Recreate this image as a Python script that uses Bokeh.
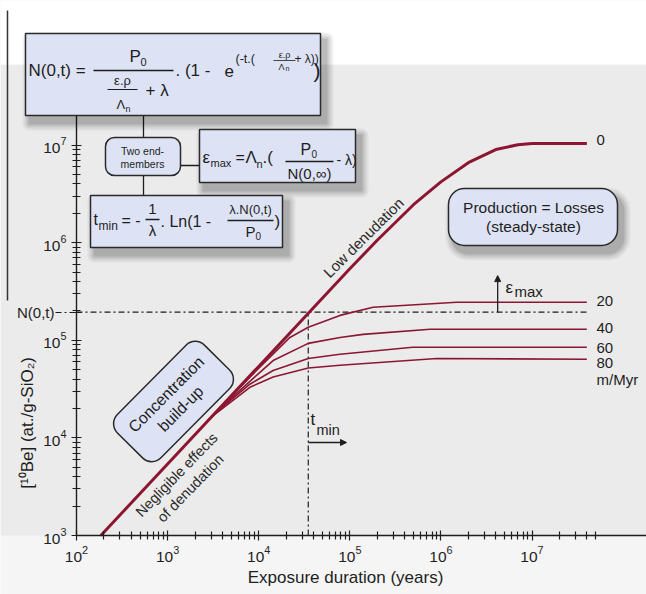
from math import pi
from bokeh.plotting import figure
from bokeh.models import Range1d, FixedTicker, BoxAnnotation, Label, Arrow, NormalHead, LogAxis
from bokeh.embed import file_html
from bokeh.resources import INLINE

# ---------------- data ----------------
t_eps0 = [185, 1e3, 1e4, 1e5, 2e5, 5e5, 1e6, 2e6, 4e6, 7e6, 1e7, 4e7]
n_eps0 = [1.0e3, 5.4e3, 5.4e4, 5.4e5, 1.06e6, 2.45e6, 4.2e6, 6.6e6, 9.0e6, 1.01e7, 1.04e7, 1.04e7]

t_eps20 = [3.3e3, 8e3, 2.2e4, 3.5e4, 7.8e4, 1.8e5, 1.5e6, 4e7]
n_eps20 = [1.8e4, 4.2e4, 1.07e5, 1.36e5, 1.80e5, 2.18e5, 2.45e5, 2.45e5]

t_eps40 = [3.3e3, 8e3, 1.44e4, 3.5e4, 7.8e4, 1.4e5, 7.6e5, 4e7]
n_eps40 = [1.8e4, 3.8e4, 6.2e4, 9.3e4, 1.07e5, 1.15e5, 1.30e5, 1.30e5]

t_eps60 = [3.0e3, 8e3, 1.44e4, 3.5e4, 7.8e4, 4.9e5, 4e7]
n_eps60 = [1.65e4, 3.55e4, 4.9e4, 6.5e4, 7.2e4, 8.5e4, 8.5e4]

t_eps80 = [2.8e3, 8e3, 1.44e4, 3.5e4, 7.8e4, 9e5, 4e7]
n_eps80 = [1.55e4, 3.3e4, 4.2e4, 5.2e4, 5.55e4, 6.5e4, 6.4e4]

rate_labels = ["0", "20", "40", "60", "80"]
rate_unit = "m/Myr"

n_t = 1.94e5          # N(0,t)
t_min = 3.5e4         # t_min
t_emax = 4.2e6        # position of the eps_max arrow
n_emax_top = 4.6e5    # top of the eps_max arrow

x_major = [1e2, 1e3, 1e4, 1e5, 1e6, 1e7]
y_major = [1e3, 1e4, 1e5, 1e6, 1e7]
x_minor = [k * 10 ** e for e in range(2, 7) for k in range(2, 10)] + [2e7, 3e7, 4e7, 5e7]
y_minor = [k * 10 ** e for e in range(3, 8) for k in range(2, 10)]

# ---------------- layout helpers ----------------
FONT = "Liberation Sans"
INK = "#1e1e1e"
RED = "#8c1632"
BOXFILL = "#dde3f4"
DASHDOT = "6 3 2 3"
X0, DX = 76.0, 91.1      # px of 10^2, px per decade
Y0, DY = 535.0, 97.6     # px of 10^3, px per decade


def tx(px):
    return 10 ** (2 + (px - X0) / DX)


def ny(py):
    return 10 ** (3 + (Y0 - py) / DY)


p = figure(width=646, height=594, x_axis_type="log", y_axis_type="log",
           x_axis_location=None, y_axis_location=None, title=None,
           x_range=Range1d(tx(0), tx(646)), y_range=Range1d(ny(594), ny(0)),
           output_backend="svg", toolbar_location=None, min_border=0,
           background_fill_color="#f5f5f5", border_fill_color="#f5f5f5",
           outline_line_color=None)
p.grid.visible = False

# backgrounds
p.add_layout(BoxAnnotation(level="underlay", left=tx(0), right=tx(646), top=ny(64), bottom=1e3,
                           fill_color="#ebebeb", fill_alpha=1, line_color=None))
p.add_layout(BoxAnnotation(level="underlay", left=tx(0), right=tx(646), top=ny(0), bottom=ny(64),
                           fill_color="white", fill_alpha=1, line_color=None))

xa = LogAxis(fixed_location=1e3, bounds=(1e2, tx(646)))
ya = LogAxis(fixed_location=1e2, bounds=(1e3, 1e8))
p.add_layout(xa, "below")
p.add_layout(ya, "left")

for ax, maj, mnr in ((xa, x_major, x_minor), (ya, y_major, y_minor)):
    ax.ticker = FixedTicker(ticks=maj, minor_ticks=mnr)
    ax.axis_line_color = INK
    ax.axis_line_width = 1.4
    ax.major_tick_line_color = INK
    ax.minor_tick_line_color = INK
    ax.major_tick_line_width = 1.2
    ax.minor_tick_line_width = 1.2
    ax.major_tick_in = 5
    ax.major_tick_out = 5
    ax.minor_tick_in = 4
    ax.minor_tick_out = 4
    ax.major_label_text_font = FONT
    ax.major_label_text_font_size = "15.5px"
    ax.major_label_text_color = INK
    ax.major_label_standoff = 5


def txt(x, y, s, size=15, align="left", base="middle", angle=0.0, color=INK, **kw):
    p.add_layout(Label(x=tx(x), y=ny(y), text=s, text_font=FONT, text_font_size=f"{size}px",
                       text_align=align, text_baseline=base, angle=angle, text_color=color, **kw))


def seg(x1, y1, x2, y2, color=INK, width=1.3, dash="solid"):
    p.add_layout(Arrow(x_start=tx(x1), y_start=ny(y1), x_end=tx(x2), y_end=ny(y2), end=None,
                       line_color=color, line_width=width, line_dash=dash))


def box(x1, y1, x2, y2, radius=0, shadow=True):
    if shadow:
        for g, a in ((7, 0.05), (5, 0.06), (3, 0.08), (1, 0.1)):
            p.add_layout(BoxAnnotation(left=tx(x1 + 4 - g), right=tx(x2 + 6 + g), top=ny(y1 + 6 - g),
                                       bottom=ny(y2 + 8 + g), fill_color="black", fill_alpha=a,
                                       line_color=None, border_radius=radius + g))
    p.add_layout(BoxAnnotation(left=tx(x1), right=tx(x2), top=ny(y1), bottom=ny(y2),
                               fill_color=BOXFILL, fill_alpha=1, line_color="#2a2a2a", line_alpha=1,
                               line_width=1.5, border_radius=radius))


# ---------------- curves ----------------
t_end = t_eps0[-1]
p.line([1e2, t_end], [n_t, n_t], line_color=INK, line_width=1.2, line_dash=DASHDOT)
p.line([t_min, t_min], [1e3, n_t], line_color=INK, line_width=1.2, line_dash=DASHDOT)
for tt, nn in ((t_eps20, n_eps20), (t_eps40, n_eps40), (t_eps60, n_eps60), (t_eps80, n_eps80)):
    p.line(tt, nn, line_color=RED, line_width=1.6)
p.line(t_eps0, n_eps0, line_color=RED, line_width=3)

# ---------------- margin pieces ----------------
seg(7, 10, 7, 300, color="#333333", width=1.5)
txt(54, 312, "N(0,t)", 15, align="right")
seg(55, 312, 76, 312, width=1.2, dash=DASHDOT)
seg(71, 312, 81, 312, width=1.2)
p.add_layout(Label(x=tx(27), y=ny(420), text="[¹⁰Be]  (at./g-SiO₂)", angle=pi / 2,
                   text_font=FONT, text_font_size="17px", text_align="center",
                   text_baseline="middle", text_color=INK))
txt(345, 577, "Exposure duration (years)", 17, align="center")

# ---------------- formula boxes ----------------
seg(143, 115, 143, 137)
seg(143, 175, 143, 195)
seg(180, 165, 199, 165)

box(25, 33, 320, 115)
box(199, 129, 355, 182)
box(90, 195, 282, 247)
box(105, 137, 180, 175, radius=9, shadow=False)

# N(0,t) formula
txt(28, 70, "N(0,t) =", 17)
seg(93, 70, 173, 70)
txt(129, 56, "P", 17)
txt(140, 61, "0", 11)
seg(107, 89, 137, 89, width=1)
txt(122, 80, "ε.ρ", 13, align="center")
txt(116, 104, "Λ", 13)
txt(125, 108, "n", 9)
txt(145, 90, "+ λ", 17)
txt(175, 70, ". (1 -", 17)
txt(224, 70, "e", 17)
txt(235, 58, "(-t.(", 12.5)
txt(284, 54, "ε.ρ", 9, align="center")
seg(273, 60, 295, 60, width=0.8)
txt(278, 66, "Λ", 9)
txt(285, 68, "n", 7)
txt(294, 58, "+ λ))", 12)
txt(313, 70, ")", 21)

# two end-members
txt(142, 150, "Two end-", 10.5, align="center")
txt(142, 163, "members", 10.5, align="center")

# eps_max formula
txt(202, 157, "ε", 17)
txt(210, 162, "max", 11)
txt(235, 157, "=", 16)
txt(245, 157, "Λ", 17)
txt(256, 163, "n", 11)
txt(262, 157, ".(", 17)
seg(285, 161, 333, 161)
txt(300, 149, "P", 16)
txt(311, 153, "0", 10)
txt(309, 173, "N(0,∞)", 15, align="center")
txt(336, 159, "- λ)", 14)

# t_min formula
txt(93, 219, "t", 16)
txt(98, 225, "min", 12)
txt(121, 220, "= -", 16)
txt(152, 208, "1", 15, align="center")
seg(145, 219, 159, 219)
txt(152, 230, "λ", 15, align="center")
txt(160, 221, ". Ln(1 -", 16)
seg(227, 220, 273, 220)
txt(250, 209, "λ.N(0,t)", 13, align="center")
txt(245, 231, "P", 15)
txt(255, 235, "0", 10)
txt(274, 221, ")", 17)

# steady-state box
box(448, 188, 617, 245, radius=16)
txt(533, 207, "Production = Losses", 15.5, align="center")
txt(533, 226, "(steady-state)", 15.5, align="center")

# concentration build-up (rotated rounded box)
p.add_layout(Label(x=tx(179), y=ny(408), text="Concentration\nbuild-up", angle=0.79,
                   text_font=FONT, text_font_size="16px", text_align="center", text_baseline="middle",
                   text_alpha=0, background_fill_color="black", background_fill_alpha=0.15,
                   padding=12, border_radius=13))
p.add_layout(Label(x=tx(173), y=ny(401), text="Concentration\nbuild-up", angle=0.79,
                   text_font=FONT, text_font_size="16px", text_align="center", text_baseline="middle",
                   text_color=INK, background_fill_color=BOXFILL, background_fill_alpha=1,
                   border_line_color="#2a2a2a", border_line_width=1.5, padding=12, border_radius=13))

p.add_layout(Label(x=tx(183), y=ny(481), text="Negligible effects\nof denudation", angle=0.8,
                   text_font=FONT, text_font_size="14.5px", text_align="center", text_baseline="middle",
                   text_color="#2a2a2a"))
p.add_layout(Label(x=tx(363), y=ny(237), text="Low denudation", angle=0.78,
                   text_font=FONT, text_font_size="15px", text_align="center", text_baseline="middle",
                   text_color="#2a2a2a"))

# arrows and their labels
p.add_layout(Arrow(x_start=t_emax, y_start=n_t, x_end=t_emax, y_end=n_emax_top, line_color=INK,
                   line_width=1.3, end=NormalHead(size=6, fill_color=INK, line_color=INK)))
txt(505, 287, "ε", 17)
txt(514, 291, "max", 15)
p.add_layout(Arrow(x_start=t_min, y_start=ny(442), x_end=tx(346), y_end=ny(442), line_color=INK,
                   line_width=1.3, end=NormalHead(size=6, fill_color=INK, line_color=INK)))
txt(310, 419, "t", 17)
txt(316, 429, "min", 14.5)

# rate labels
for lab, yy in zip(rate_labels, (139, 300, 327, 347, 362)):
    txt(596, yy, lab, 15)
txt(596, 379, rate_unit, 15)

open("out.html", "w").write(file_html(p, INLINE))
